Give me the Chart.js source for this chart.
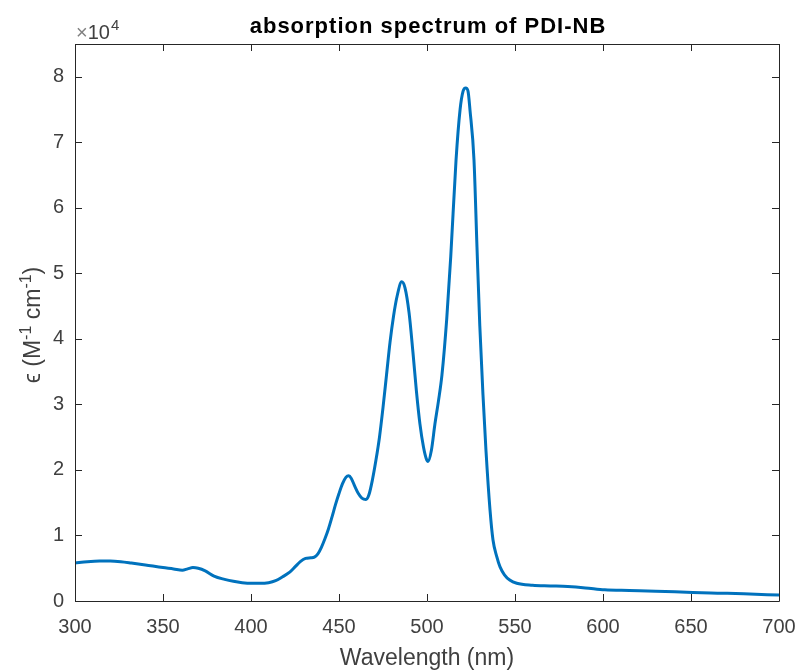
<!DOCTYPE html>
<html>
<head>
<meta charset="utf-8">
<script src="https://cdn.jsdelivr.net/npm/chart.js@4/dist/chart.umd.min.js"></script>
<style>
html,body{margin:0;padding:0;background:#fff;}
#wrap{width:799px;height:671px;position:relative;}
</style>
</head>
<body>
<div id="wrap"><canvas id="c" width="799" height="671"></canvas></div>
<script>
const wavelengths = [300,307,314,320,326,332,340,350,356,361,364,367,370,374,379,385,390,395,400,405,410,414,418,422,425,428,431,434,436,438,440,442,444,446,448,450,452,454,455.5,457,459,461,463,465.3,467,469,471,473,475,477,479,481,483,485.6,487.5,489.8,492,494,496,498,499.5,500.6,502.5,504.5,506.5,508.5,511.2,513.5,516.5,518.8,520.5,522,523.3,524.4,526.7,528.4,530,531.8,533.5,535.8,537.5,539.6,541.5,544,547,551,560,570,580,590,601,615,630,651,665,680,700];
const epsilon =    [5800,6000,6100,6100,6000,5800,5500,5100,4900,4700,4900,5100,5000,4600,3800,3300,3000,2800,2700,2700,2800,3100,3700,4400,5200,6000,6500,6600,6700,7200,8200,9500,11000,12800,14700,16400,17900,18900,19100,18700,17500,16400,15700,15500,16200,18500,21500,25000,29500,34500,39500,43500,46500,48700,47800,44000,38000,32000,27000,23500,21800,21300,23000,27000,30500,34500,43000,52600,67300,75000,77800,78300,77800,75000,67300,54000,42000,31500,23000,13900,9300,6800,5200,4000,3200,2700,2400,2300,2200,2000,1700,1600,1500,1300,1200,1100,900];
const xTicks = [300,350,400,450,500,550,600,650,700];
const yTicks = [0,1,2,3,4,5,6,7,8];
const titleText = 'absorption spectrum of PDI-NB';
const xLabel = 'Wavelength (nm)';

const points = wavelengths.map((w,i)=>({x:w,y:epsilon[i]}));
const axisColor = '#262626';
const textColor = '#404040';
const fontFam = 'Liberation Sans, Arial, Helvetica, sans-serif';

const boxPlugin = {
  id:'box',
  afterDraw(chart){
    const {ctx, chartArea:a, scales:{x,y}} = chart;
    ctx.save();
    ctx.strokeStyle = axisColor;
    ctx.lineWidth = 1;
    ctx.beginPath();
    ctx.rect(Math.round(a.left)+0.5, Math.round(a.top)+0.5, Math.round(a.right-a.left), Math.round(a.bottom-a.top));
    ctx.stroke();
    const tl = 7;
    ctx.beginPath();
    xTicks.forEach(v=>{
      const px = Math.round(x.getPixelForValue(v))+0.5;
      ctx.moveTo(px,a.bottom); ctx.lineTo(px,a.bottom-tl);
      ctx.moveTo(px,a.top); ctx.lineTo(px,a.top+tl);
    });
    yTicks.forEach(v=>{
      const py = Math.round(y.getPixelForValue(v*1e4))+0.5;
      ctx.moveTo(a.left,py); ctx.lineTo(a.left+tl,py);
      ctx.moveTo(a.right,py); ctx.lineTo(a.right-tl,py);
    });
    ctx.stroke();
    // title
    ctx.fillStyle = '#000';
    ctx.font = 'bold 22px '+fontFam;
    ctx.letterSpacing = '1px';
    ctx.textAlign='center'; ctx.textBaseline='alphabetic';
    ctx.fillText(titleText, 428, 33);
    ctx.letterSpacing = '0px';
    // exponent
    ctx.textAlign='left';
    ctx.fillStyle = '#808080';
    ctx.font = '20px '+fontFam;
    ctx.fillText('×', a.left+1, 39);
    const wx = ctx.measureText('×').width;
    ctx.fillStyle = textColor;
    ctx.fillText('10', a.left+1+wx, 39);
    const w10 = ctx.measureText('10').width;
    ctx.font = '15px '+fontFam;
    ctx.fillText('4', a.left+2+wx+w10, 30);
    // x label
    ctx.font = '23px '+fontFam;
    ctx.textAlign='center';
    ctx.fillStyle = textColor;
    ctx.fillText(xLabel, (a.left+a.right)/2, 665);
    // y label (rotated, with superscripts)
    ctx.save();
    ctx.translate(40, 325);
    ctx.rotate(-Math.PI/2);
    const parts = [['ϵ (M',23,0],['-1',16,-9],[' cm',23,0],['-1',16,-9],[')',23,0]];
    let total = 0;
    parts.forEach(p=>{ctx.font=p[1]+'px '+fontFam; total += ctx.measureText(p[0]).width;});
    let cx = -total/2;
    ctx.textAlign='left';
    parts.forEach(p=>{ctx.font=p[1]+'px '+fontFam; ctx.fillText(p[0], cx, p[2]); cx += ctx.measureText(p[0]).width;});
    ctx.restore();
    ctx.restore();
  }
};

new Chart(document.getElementById('c'), {
  type:'line',
  data:{datasets:[{data:points, borderColor:'#0072BD', borderWidth:3, pointRadius:0, cubicInterpolationMode:'monotone', fill:false}]},
  options:{
    responsive:false, animation:false,
    layout:{padding:{left:0,right:20,top:44,bottom:0}},
    plugins:{legend:{display:false}, title:{display:false}, tooltip:{enabled:false}},
    scales:{
      x:{type:'linear', min:300, max:700,
        afterFit(s){s.height=70; s.paddingLeft=0; s.paddingRight=0;},
        afterBuildTicks(s){s.ticks = xTicks.map(v=>({value:v}));},
        grid:{display:false, drawTicks:false},
        border:{display:false},
        ticks:{color:textColor, font:{size:20, family:fontFam}, padding:14, maxRotation:0, autoSkip:false},
        title:{display:false}
      },
      y:{type:'linear', min:0, max:85000,
        afterFit(s){s.width=75; s.paddingTop=0; s.paddingBottom=0;},
        afterBuildTicks(s){s.ticks = yTicks.map(v=>({value:v*1e4}));},
        grid:{display:false, drawTicks:false},
        border:{display:false},
        ticks:{color:textColor, font:{size:20, family:fontFam}, padding:11, callback:(v)=>String(v/1e4), autoSkip:false},
        title:{display:false}
      }
    }
  },
  plugins:[boxPlugin]
});
</script>
</body>
</html>
